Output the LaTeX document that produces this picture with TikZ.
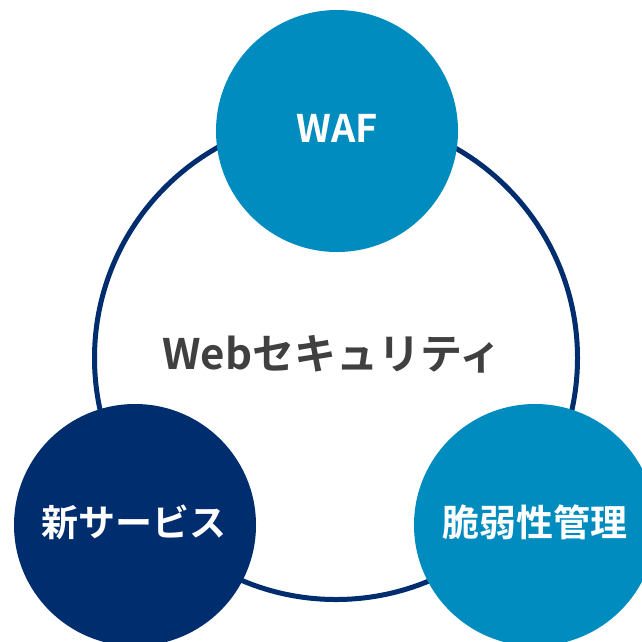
\documentclass[tikz,border=0pt]{standalone}
\usepackage{fontspec}
\setmainfont{Noto Sans CJK JP}[BoldFont={* Bold}]
\newfontfamily\jpb{Noto Sans CJK JP Bold}
\definecolor{lblue}{RGB}{0,140,190}
\definecolor{navy}{RGB}{0,45,110}
\definecolor{tgray}{RGB}{64,64,64}
\begin{document}
\begin{tikzpicture}[x=1pt,y=-1pt,
  sat/.style={circle,minimum size=242pt,inner sep=0pt}]
\useasboundingbox (0,0) rectangle (642,641);
\clip (0,0) rectangle (642,641);
\node[circle,draw=navy,line width=5pt,fill=white,minimum size=483pt,inner sep=0pt] (main) at (336,358) {};
\node[text=tgray,font=\jpb\fontsize{42}{46}\selectfont] (title) at (332,354) {Webセキュリティ};
\node[sat,fill=lblue] (waf) at (337,131) {};
\node[text=white,font=\jpb\fontsize{38}{42}\selectfont] (waft) at (337,128) {WAF};
\node[sat,fill=navy] (svc) at (135,525) {};
\node[text=white,font=\jpb\fontsize{37}{40}\selectfont] (svct) at (134,522) {新サービス};
\node[sat,fill=lblue] (vul) at (535,525) {};
\node[text=white,font=\jpb\fontsize{37}{40}\selectfont] (vult) at (535,522) {脆弱性管理};
\end{tikzpicture}
\end{document}
